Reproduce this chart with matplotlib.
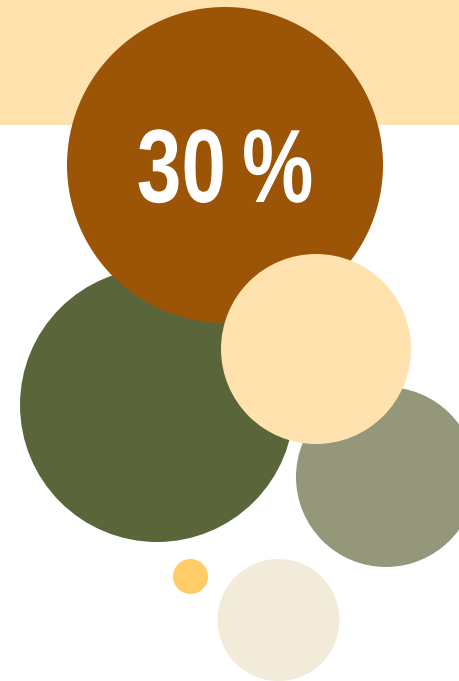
import matplotlib
matplotlib.use('Agg')
import matplotlib.pyplot as plt
from matplotlib.patches import Circle, Rectangle
from matplotlib.patheffects import AbstractPathEffect
from matplotlib.transforms import Affine2D

# bubble layout (pixel units, y grows downward), drawn in this order
names = ['grey', 'green', 'brown', 'light', 'yellow', 'cream']
cx = [386, 157, 225, 316, 190.5, 278.5]
cy = [477, 405, 165, 349, 576.5, 620]
radius = [90, 137, 158, 95, 17.5, 61]
colors = ['#95977a', '#5a6639', '#9c5407', '#ffe2ae', '#ffcc66', '#f2ebd9']

band_height = 125
label = '30\u2009%'


class Squeeze(AbstractPathEffect):
    """Draw text narrower, around a fixed x in pixels (a condensed look)."""

    def __init__(self, x0, sx):
        super().__init__()
        self.x0 = x0
        self.sx = sx

    def draw_path(self, renderer, gc, tpath, affine, rgbFace=None):
        squeeze = Affine2D().translate(-self.x0, 0).scale(self.sx, 1).translate(self.x0, 0)
        renderer.draw_path(gc, tpath, affine + squeeze, rgbFace)


fig = plt.figure(figsize=(4.59, 6.81), dpi=100)
ax = fig.add_axes([0, 0, 1, 1])
ax.set_xlim(0, 459)
ax.set_ylim(681, 0)
ax.set_aspect('equal')
ax.axis('off')

ax.add_patch(Rectangle((0, 0), 459, band_height, color='#ffe2ae', lw=0, zorder=0))

for i in range(len(names)):
    ax.add_patch(Circle((cx[i], cy[i]), radius[i], color=colors[i], lw=0, zorder=i + 1))

ax.text(225, 202, label, color='white', fontsize=75, fontweight='bold',
        family=['Liberation Sans', 'DejaVu Sans'], ha='center',
        va='baseline', zorder=10,
        path_effects=[Squeeze(225, 0.77)])

fig.savefig('out.png', dpi=100)
